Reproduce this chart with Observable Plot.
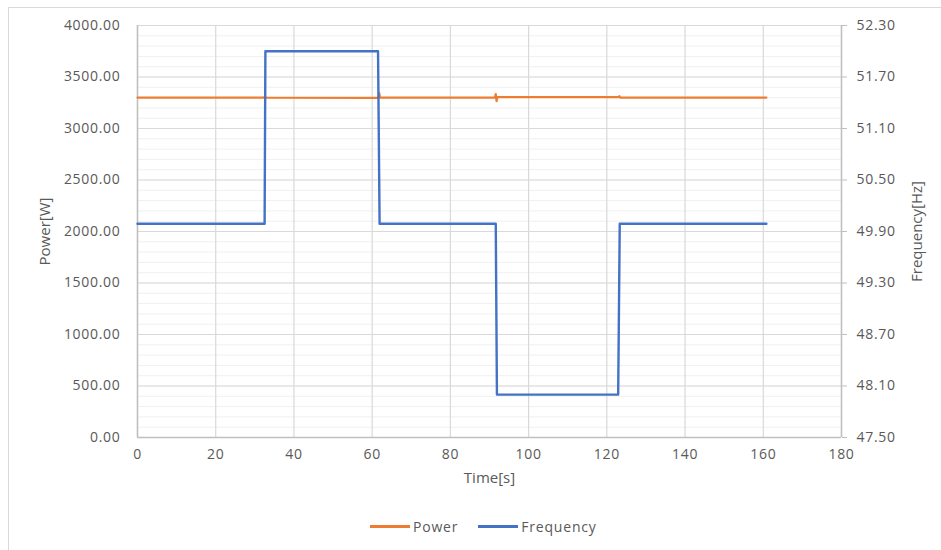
<!DOCTYPE html>
<html>
<head>
<meta charset="utf-8">
<script src="https://cdn.jsdelivr.net/npm/d3@7"></script>
<script src="https://cdn.jsdelivr.net/npm/@observablehq/plot@0.6"></script>
<style>
  html, body { margin: 0; padding: 0; background: #fff; }
  #frame { position: absolute; left: 8px; top: 7px; width: 960px; height: 600px; border: 1px solid #d9d9d9; }
  #chart { position: absolute; left: 0; top: 0; }
  #chart svg g[aria-label="y-axis tick label"] text,
  #chart svg g[aria-label="x-axis tick label"] text { letter-spacing: 0.7px; }
  #legend { position: absolute; left: 370px; top: 517px; display: flex; gap: 20px;
            font-family: "Open Sans", sans-serif; font-size: 14px; letter-spacing: 0.8px; color: #595959; }
  .item { display: flex; align-items: center; }
  .sw { width: 40px; height: 3px; margin-right: 3px; }
</style>
</head>
<body>
<div id="frame"></div>
<div id="chart"></div>
<div id="legend">
  <div class="item"><span class="sw" style="background:#ed7d31"></span>Power</div>
  <div class="item"><span class="sw" style="background:#4472c4"></span>Frequency</div>
</div>
<script>
// Power series [W]
const powerTime = [0, 32.4, 32.6, 32.8, 61.6, 61.8, 62.0, 91.4, 91.6, 91.8, 92.0, 123.0, 123.2, 123.4, 160.8];
const powerValue = [3300, 3300, 3315, 3300, 3298, 3345, 3300, 3300, 3335, 3265, 3305, 3305, 3315, 3300, 3300];
// Frequency series [Hz]
const freqTime = [0, 32.5, 32.7, 61.5, 61.9, 91.6, 91.9, 122.9, 123.3, 160.8];
const freqValue = [49.99, 49.99, 52.00, 52.00, 49.99, 49.99, 48.00, 48.00, 49.99, 49.99];
// Axis ticks
const xTicks = [0, 20, 40, 60, 80, 100, 120, 140, 160, 180];
const powerTicks = [0, 500, 1000, 1500, 2000, 2500, 3000, 3500, 4000];
const freqTicks = ["47.50", "48.10", "48.70", "49.30", "49.90", "50.50", "51.10", "51.70", "52.30"];
const freqMin = 47.5, freqMax = 52.3, powerMax = 4000;

const powerData = powerTime.map((t, i) => ({t, v: powerValue[i]}));
const freqData = freqTime.map((t, i) => ({t, v: (freqValue[i] - freqMin) / (freqMax - freqMin) * powerMax}));
const minor = d3.range(0, 4001, 100);

const chart = Plot.plot({
  width: 941, height: 500,
  marginTop: 25, marginBottom: 63, marginLeft: 137, marginRight: 100,
  style: { fontFamily: "Open Sans, sans-serif", fontSize: "14px", color: "#595959", background: "transparent" },
  x: { domain: [0, 180] },
  y: { domain: [0, 4000] },
  marks: [
    Plot.ruleY(minor, { stroke: "#f0f0f0", strokeWidth: 1 }),
    Plot.ruleY(powerTicks, { stroke: "#d9d9d9", strokeWidth: 1.2 }),
    Plot.ruleX(xTicks, { stroke: "#d9d9d9", strokeWidth: 1.2 }),
    Plot.ruleX([0, 180], { stroke: "#bfbfbf", strokeWidth: 1.5 }),
    Plot.ruleY([0], { stroke: "#bfbfbf", strokeWidth: 1.5 }),
    Plot.axisY({ ticks: powerTicks, tickFormat: d => d.toFixed(2), tickSize: 0, tickPadding: 17, label: null }),
    Plot.axisY({ anchor: "right", ticks: powerTicks, tickFormat: (d, i) => freqTicks[i], tickSize: 5, tickPadding: 10, stroke: "#bfbfbf", label: null }),
    Plot.axisX({ ticks: xTicks, tickSize: 0, tickPadding: 12, label: null }),
    Plot.line(powerData, { x: "t", y: "v", stroke: "#ed7d31", strokeWidth: 2.2 }),
    Plot.line(freqData, { x: "t", y: "v", stroke: "#4472c4", strokeWidth: 2.4 }),
    Plot.text(["Power[W]"], { frameAnchor: "left", dx: -92, rotate: -90, textAnchor: "middle", fill: "#595959", fontSize: 15, style: "letter-spacing:0.3px" }),
    Plot.text(["Frequency[Hz]"], { frameAnchor: "right", dx: 76, rotate: -90, textAnchor: "middle", fill: "#595959", fontSize: 15 }),
    Plot.text(["Time[s]"], { frameAnchor: "bottom", dy: 45, fill: "#595959", fontSize: 15, style: "letter-spacing:1px" })
  ]
});
document.getElementById("chart").appendChild(chart);
</script>
</body>
</html>
